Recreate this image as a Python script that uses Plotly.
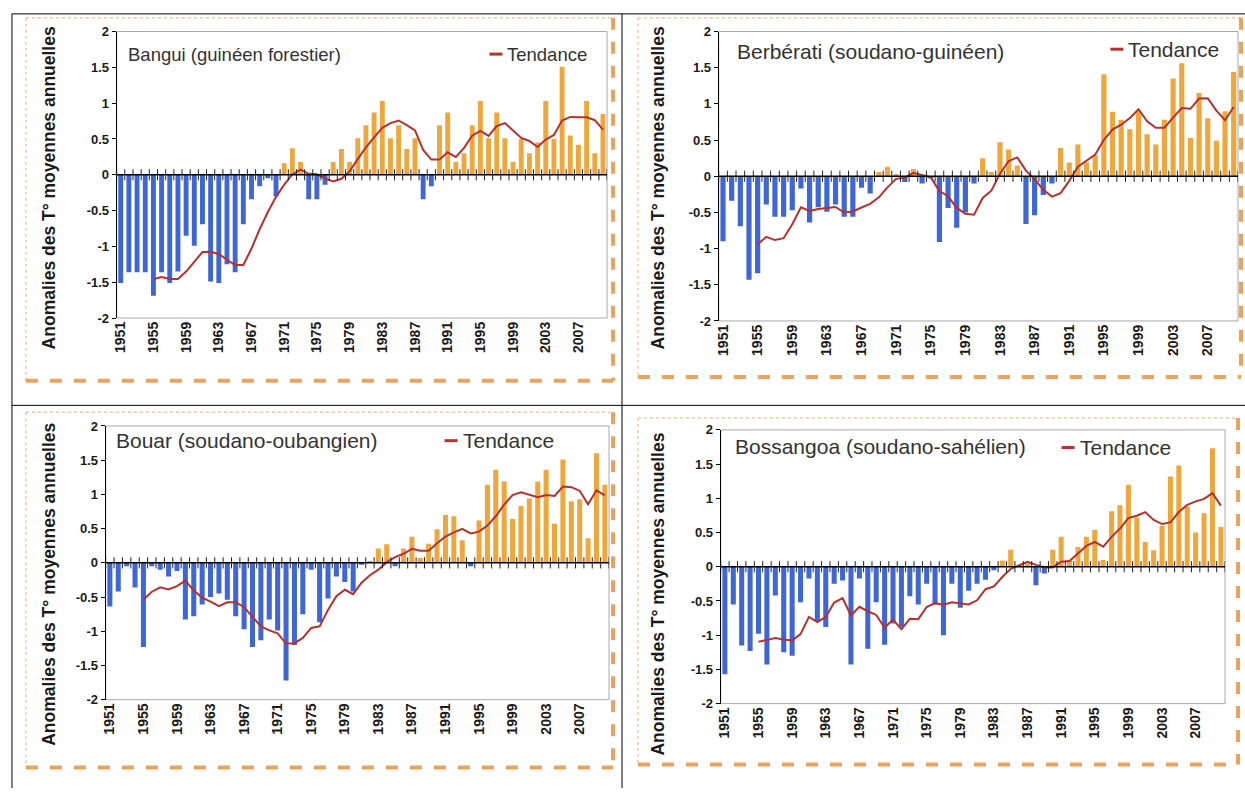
import pandas as pd
import plotly.graph_objects as go

W, H = 1245, 796

years = list(range(1951, 2011))
tick_years = list(range(1951, 2008, 4))
y_ticks = [2, 1.5, 1, 0.5, 0, -0.5, -1, -1.5, -2]
y_tick_text = ["2", "1.5", "1", "0.5", "0", "-0.5", "-1", "-1.5", "-2"]

# Annual mean temperature anomalies (°C), 1951-2010
bangui = [
    -1.51, -1.36, -1.36, -1.36, -1.69, -1.36, -1.51, -1.35, -0.85, -0.99,
    -0.69, -1.49, -1.51, -1.25, -1.36, -0.69, -0.34, -0.16, -0.05, -0.30,
    0.16, 0.37, 0.18, -0.34, -0.34, -0.14, 0.18, 0.36, 0.18, 0.51,
    0.69, 0.87, 1.03, 0.51, 0.69, 0.36, 0.51, -0.34, -0.16, 0.69,
    0.87, 0.18, 0.30, 0.69, 1.03, 0.51, 0.87, 0.51, 0.18, 0.50,
    0.30, 0.45, 1.03, 0.50, 1.51, 0.55, 0.42, 1.03, 0.30, 0.85,
]
berberati = [
    -0.90, -0.34, -0.69, -1.43, -1.34, -0.39, -0.56, -0.56, -0.47, -0.17,
    -0.64, -0.43, -0.49, -0.39, -0.56, -0.56, -0.16, -0.24, 0.06, 0.13,
    0.03, -0.08, 0.10, -0.10, -0.03, -0.91, -0.44, -0.71, -0.50, -0.10,
    0.25, 0.06, 0.47, 0.37, 0.15, -0.66, -0.54, -0.26, -0.10, 0.39,
    0.19, 0.44, 0.19, 0.29, 1.41, 0.89, 0.78, 0.65, 0.90, 0.58,
    0.44, 0.78, 1.35, 1.56, 0.53, 1.15, 0.80, 0.49, 0.90, 1.44,
]
bouar = [
    -0.64, -0.42, -0.05, -0.36, -1.23, -0.05, -0.10, -0.20, -0.12, -0.83,
    -0.78, -0.61, -0.50, -0.45, -0.54, -0.78, -0.97, -1.23, -1.13, -0.83,
    -0.99, -1.72, -1.20, -0.75, -0.10, -0.87, -0.52, -0.20, -0.28, -0.42,
    -0.03, 0.02, 0.21, 0.27, -0.05, 0.21, 0.38, 0.07, 0.28, 0.49,
    0.70, 0.68, 0.33, -0.05, 0.62, 1.14, 1.36, 1.19, 0.64, 0.83,
    0.94, 1.19, 1.36, 0.57, 1.51, 0.90, 0.93, 0.36, 1.60, 1.14,
]
bossangoa = [
    -1.57, -0.55, -1.15, -1.23, -0.98, -1.43, -0.42, -1.25, -1.30, -0.52,
    -0.17, -0.80, -0.88, -0.25, -0.20, -1.43, -0.17, -1.20, -0.52, -1.14,
    -0.83, -0.88, -0.43, -0.55, -0.25, -0.55, -1.00, -0.25, -0.60, -0.35,
    -0.25, -0.19, -0.05, 0.09, 0.25, 0.02, 0.05, -0.27, -0.10, 0.25,
    0.44, 0.10, 0.29, 0.44, 0.54, 0.10, 0.81, 0.90, 1.20, 0.72,
    0.36, 0.24, 0.60, 1.32, 1.48, 0.88, 0.50, 0.78, 1.73, 0.58,
]

stations = [
    "Bangui (guinéen forestier)",
    "Berbérati (soudano-guinéen)",
    "Bouar (soudano-oubangien)",
    "Bossangoa (soudano-sahélien)",
]
series = [bangui, berberati, bouar, bossangoa]

FONT = "Arial, Liberation Sans, sans-serif"
BLUE = "#3F66D6"
ORANGE = "#EFA73C"
RED = "#B8302C"
FRAME = "#EBA25C"

# pixel geometry of each panel: plot box (l, r, top, bottom), frame, text anchors and sizes
layout_px = [
    dict(plot=(113, 605, 25, 317), frame=(22, 611, 11, 381), title=(122, 48), legend=(487, 48),
         ytitle=(45, 184), fs=18.5),
    dict(plot=(717, 1238, 25, 320), frame=(636, 1241, 11, 377), title=(733, 45), legend=(1110, 43),
         ytitle=(656, 184), fs=21),
    dict(plot=(102, 607, 427, 706), frame=(22, 611, 413, 775), title=(110, 442), legend=(442, 442),
         ytitle=(45, 588), fs=21),
    dict(plot=(719, 1225, 431, 710), frame=(636, 1238, 419, 772), title=(731, 448), legend=(1061, 449),
         ytitle=(656, 598), fs=21),
]


def px(x):
    return x / W


def py(y):
    return 1 - y / H


def pline(x0, y0, x1, y1, color, width, dash="solid"):
    return dict(type="line", xref="paper", yref="paper", x0=px(x0), y0=py(y0), x1=px(x1), y1=py(y1),
                line=dict(color=color, width=width, dash=dash))


fig = go.Figure()
shapes = []
annotations = []

# table grid
for x0, y0, x1, y1 in [(8, 7, 8, 796), (620, 7, 620, 796), (8, 7, 1245, 7), (8, 406, 1245, 406)]:
    shapes.append(pline(x0, y0, x1, y1, "black", 1))

for k, (name, vals, g) in enumerate(zip(stations, series, layout_px)):
    n = "" if k == 0 else str(k + 1)
    xa, ya = "x" + n, "y" + n
    l, r, t, b = g["plot"]
    fs = g["fs"]

    colors = [BLUE if v < 0 else ORANGE for v in vals]
    trend = pd.Series(vals, index=years).rolling(5).mean()

    fig.add_trace(go.Bar(x=years, y=vals, marker=dict(color=colors, line=dict(width=0)), width=0.6,
                         xaxis=xa, yaxis=ya, showlegend=False))
    fig.add_trace(go.Scatter(x=years, y=trend.values, mode="lines", line=dict(color=RED, width=2),
                             xaxis=xa, yaxis=ya, showlegend=False, name="Tendance"))
    bounds = [y - 0.5 for y in years] + [years[-1] + 0.5]
    fig.add_trace(go.Scatter(x=bounds, y=[0] * len(bounds), mode="markers",
                             marker=dict(symbol="line-ns", size=8, line=dict(width=1, color="#222")),
                             xaxis=xa, yaxis=ya, showlegend=False, hoverinfo="skip"))

    fig.update_layout(**{
        ("xaxis" + n): dict(domain=[px(l), px(r)], range=[1950.5, 2010.5], anchor=ya,
                            tickvals=tick_years, ticktext=[str(v) for v in tick_years], tickangle=-90,
                            tickfont=dict(family=FONT, size=14, color="#1a1a1a", weight="bold"),
                            showgrid=False, zeroline=False, showline=False, ticks=""),
        ("yaxis" + n): dict(domain=[py(b), py(t)], range=[-2, 2], anchor=xa,
                            tickvals=y_ticks, ticktext=y_tick_text, ticks="outside", ticklen=4,
                            tickcolor="black", showline=True, linecolor="black", linewidth=1,
                            tickfont=dict(family=FONT, size=13, color="#1a1a1a", weight="bold"),
                            showgrid=False, zeroline=False),
    })

    # plot-area border and zero axis line
    shapes.append(dict(type="rect", xref="paper", yref="paper", x0=px(l), x1=px(r), y0=py(b), y1=py(t),
                       line=dict(color="#A8A8A8", width=1), layer="below"))
    shapes.append(dict(type="line", xref=xa, yref=ya, x0=1950.5, x1=2010.5, y0=0, y1=0,
                       line=dict(color="black", width=1.5), layer="above"))

    # orange picture frame: light dotted left/top, heavy dashed right/bottom
    fl, fr, ft, fb = g["frame"]
    shapes.append(pline(fl, ft, fl, fb, "#F2C9A0", 1.5, "dot"))
    shapes.append(pline(fl, ft, fr, ft, "#F2C9A0", 1.5, "dot"))
    shapes.append(pline(fr, ft, fr, fb, FRAME, 4, "dash"))
    shapes.append(pline(fl, fb, fr, fb, FRAME, 4, "dash"))

    # station title
    tx, ty = g["title"]
    annotations.append(dict(text=name, xref="paper", yref="paper", x=px(tx), y=py(ty), xanchor="left",
                            yanchor="middle", showarrow=False,
                            font=dict(family=FONT, size=fs, color="#333")))
    # legend entry
    lx, ly = g["legend"]
    shapes.append(pline(lx, ly, lx + 13, ly, RED, 3))
    annotations.append(dict(text="Tendance", xref="paper", yref="paper", x=px(lx + 16), y=py(ly),
                            xanchor="left", yanchor="middle", showarrow=False,
                            font=dict(family=FONT, size=fs, color="#333")))
    # y-axis title
    yx, yy = g["ytitle"]
    annotations.append(dict(text="Anomalies des T° moyennes annuelles", xref="paper", yref="paper",
                            x=px(yx), y=py(yy), xanchor="center", yanchor="middle", textangle=-90,
                            showarrow=False, font=dict(family=FONT, size=17.5, color="#1a1a1a", weight="bold")))

fig.update_layout(width=W, height=H, margin=dict(l=0, r=0, t=0, b=0), paper_bgcolor="white",
                  plot_bgcolor="white", bargap=0.4, shapes=shapes, annotations=annotations, showlegend=False)

fig.write_html("out.html")
